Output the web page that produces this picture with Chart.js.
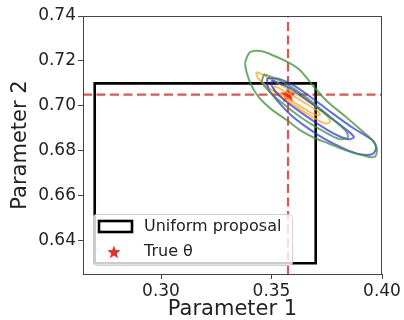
<!DOCTYPE html>
<html><head><meta charset="utf-8">
<script src="https://cdn.jsdelivr.net/npm/chart.js@4"></script>
<style>html,body{margin:0;padding:0;background:#fff}#wrap{width:404px;height:320px}</style>
</head><body><div id="wrap"><canvas id="c" width="404" height="320"></canvas></div>
<script>
// ---- data ----
const X_RANGE = [0.2647, 0.40];
const Y_RANGE = [0.6252, 0.74];
const X_TICKS = [0.30, 0.35, 0.40];
const Y_TICKS = [0.64, 0.66, 0.68, 0.70, 0.72, 0.74];
const TRUE_THETA = [0.3575, 0.705];
const PROPOSAL_X = [0.27, 0.37];
const PROPOSAL_Y = [0.63, 0.71];
const GREEN_OUTER = [[0.3380,0.7194],[0.3403,0.7239],[0.3457,0.7243],[0.3516,0.7221],[0.3575,0.7194],[0.3629,0.7159],[0.3697,0.7079],[0.3756,0.7016],[0.3833,0.6954],[0.3910,0.6888],[0.3968,0.6834],[0.3977,0.6794],[0.3964,0.6772],[0.3910,0.6781],[0.3833,0.6803],[0.3756,0.6834],[0.3697,0.6856],[0.3629,0.6892],[0.3570,0.6936],[0.3493,0.6990],[0.3439,0.7043],[0.3403,0.7105],[0.3385,0.7159],[0.3380,0.7194]];
const GREEN_INNER = [[0.3466,0.7141],[0.3516,0.7123],[0.3584,0.7088],[0.3674,0.7025],[0.3765,0.6950],[0.3833,0.6892],[0.3846,0.6861],[0.3810,0.6852],[0.3742,0.6883],[0.3652,0.6936],[0.3561,0.7003],[0.3493,0.7061],[0.3457,0.7105],[0.3466,0.7141]];
const BLUE_OUTER = [[0.3480,0.7123],[0.3538,0.7119],[0.3606,0.7088],[0.3697,0.7025],[0.3787,0.6959],[0.3878,0.6896],[0.3955,0.6848],[0.3973,0.6812],[0.3955,0.6785],[0.3900,0.6785],[0.3833,0.6808],[0.3742,0.6852],[0.3652,0.6910],[0.3584,0.6963],[0.3525,0.7025],[0.3484,0.7079],[0.3480,0.7123]];
const BLUE_INNER = [[0.3502,0.7114],[0.3584,0.7079],[0.3674,0.7016],[0.3765,0.6950],[0.3846,0.6888],[0.3873,0.6861],[0.3846,0.6852],[0.3787,0.6874],[0.3697,0.6928],[0.3606,0.6990],[0.3538,0.7043],[0.3502,0.7088],[0.3502,0.7114]];
const ORANGE_OUTER = [[0.3430,0.7150],[0.3457,0.7141],[0.3538,0.7096],[0.3629,0.7043],[0.3710,0.6990],[0.3756,0.6950],[0.3765,0.6928],[0.3738,0.6923],[0.3665,0.6963],[0.3584,0.7016],[0.3502,0.7070],[0.3439,0.7123],[0.3430,0.7150]];
const ORANGE_INNER = [[0.3516,0.7088],[0.3584,0.7052],[0.3652,0.7012],[0.3710,0.6976],[0.3719,0.6959],[0.3683,0.6968],[0.3615,0.7008],[0.3548,0.7048],[0.3511,0.7070],[0.3516,0.7088]];
const LEGEND_LABELS = ['Uniform proposal', 'True θ'];

// ---- styles ----
const FONT = "'DejaVu Sans', sans-serif";
const RED = 'rgba(228,50,44,0.85)';
const GREEN = 'rgba(60,145,55,0.75)';
const BLUE = 'rgba(40,50,230,0.72)';
const ORANGE = 'rgba(250,165,30,0.7)';

function drawStar(ctx, cx, cy, r, color) {
  ctx.save();
  ctx.beginPath();
  for (let i = 0; i < 10; i++) {
    const rad = i % 2 === 0 ? r : r * 0.42;
    const a = -Math.PI / 2 + i * Math.PI / 5;
    const px = cx + rad * Math.cos(a), py = cy + rad * Math.sin(a);
    if (i === 0) ctx.moveTo(px, py); else ctx.lineTo(px, py);
  }
  ctx.closePath();
  ctx.fillStyle = color;
  ctx.fill();
  ctx.restore();
}
const starImg = document.createElement('canvas');
starImg.width = 18; starImg.height = 18;
drawStar(starImg.getContext('2d'), 9, 9.5, 8.5, 'rgb(232,48,40)');

const toXY = arr => arr.map(p => ({x: p[0], y: p[1]}));
const contour = (arr, color) => ({
  data: toXY(arr), borderColor: color, borderWidth: 2, pointRadius: 0,
  showLine: true, fill: false, tension: 0.3
});

const datasets = [
  contour(GREEN_OUTER, GREEN),
  contour(GREEN_INNER, GREEN),
  contour(BLUE_OUTER, BLUE),
  contour(BLUE_INNER, BLUE),
  contour(ORANGE_OUTER, ORANGE),
  contour(ORANGE_INNER, ORANGE),
  { data: toXY([[PROPOSAL_X[0],PROPOSAL_Y[0]],[PROPOSAL_X[1],PROPOSAL_Y[0]],[PROPOSAL_X[1],PROPOSAL_Y[1]],[PROPOSAL_X[0],PROPOSAL_Y[1]],[PROPOSAL_X[0],PROPOSAL_Y[0]]]),
    borderColor: '#000', borderWidth: 2.6, pointRadius: 0, showLine: true, fill: false, tension: 0, borderJoinStyle: 'miter' },
  { data: toXY([[TRUE_THETA[0], Y_RANGE[0]], [TRUE_THETA[0], Y_RANGE[1]]]),
    borderColor: RED, borderWidth: 2.2, borderDash: [9, 4.5], pointRadius: 0, showLine: true, fill: false },
  { data: toXY([[X_RANGE[0], TRUE_THETA[1]], [X_RANGE[1], TRUE_THETA[1]]]),
    borderColor: RED, borderWidth: 2.2, borderDash: [9, 4.5], pointRadius: 0, showLine: true, fill: false },
  { data: toXY([TRUE_THETA]), pointStyle: starImg, pointRadius: 9, showLine: false }
];

const framePlugin = {
  id: 'frame',
  afterDatasetsDraw(chart) {
    const {ctx, chartArea: a} = chart;
    ctx.save();
    ctx.strokeStyle = '#444';
    ctx.lineWidth = 1;
    ctx.strokeRect(Math.round(a.left) + 0.5, Math.round(a.top) + 0.5, Math.round(a.right - a.left) - 1, Math.round(a.bottom - a.top));
    // legend
    const lx = a.left + 10, ly = a.bottom - 60, lw = 199, lh = 51;
    ctx.beginPath();
    ctx.roundRect(lx + 0.5, ly + 0.5, lw, lh, 3);
    ctx.fillStyle = 'rgba(255,255,255,0.8)';
    ctx.fill();
    ctx.strokeStyle = 'rgba(204,204,204,0.9)';
    ctx.lineWidth = 1;
    ctx.stroke();
    ctx.fillStyle = '#fff';
    ctx.fillRect(lx + 6, ly + 7, 33, 11);
    ctx.strokeStyle = '#000';
    ctx.lineWidth = 2.6;
    ctx.strokeRect(lx + 6, ly + 7, 33, 11);
    drawStar(ctx, lx + 21, ly + 38.5, 7, 'rgb(232,48,40)');
    ctx.fillStyle = '#222';
    ctx.font = '16px ' + FONT;
    ctx.textBaseline = 'middle';
    ctx.textAlign = 'left';
    ctx.fillText(LEGEND_LABELS[0], lx + 51, ly + 13);
    ctx.fillText(LEGEND_LABELS[1], lx + 51, ly + 38);
    ctx.restore();
  }
};

new Chart(document.getElementById('c'), {
  type: 'scatter',
  data: { datasets },
  plugins: [framePlugin],
  options: {
    responsive: false, animation: false, devicePixelRatio: 1,
    layout: { padding: { top: 16, right: 22, left: 0, bottom: 0 } },
    plugins: { legend: { display: false }, tooltip: { enabled: false } },
    scales: {
      x: {
        type: 'linear', min: X_RANGE[0], max: X_RANGE[1],
        afterBuildTicks: s => { s.ticks = X_TICKS.map(v => ({value: v})); },
        afterFit: s => { s.height = 46; },
        ticks: { callback: v => v.toFixed(2), font: { family: FONT, size: 17 }, color: '#222', padding: 2, maxRotation: 0 },
        grid: { drawOnChartArea: false, drawTicks: true, tickLength: 5, tickColor: '#444' },
        border: { display: true, color: '#444' },
        title: { display: true, text: 'Parameter 1', font: { family: FONT, size: 21, lineHeight: 1 }, color: '#222', padding: { top: 0, bottom: 0 } }
      },
      y: {
        type: 'linear', min: Y_RANGE[0], max: Y_RANGE[1],
        afterBuildTicks: s => { s.ticks = Y_TICKS.map(v => ({value: v})); },
        afterFit: s => { s.width = 83; },
        ticks: { callback: v => v.toFixed(2), font: { family: FONT, size: 17 }, color: '#222', padding: 2 },
        grid: { drawOnChartArea: false, drawTicks: true, tickLength: 5, tickColor: '#444' },
        border: { display: true, color: '#444' },
        title: { display: true, text: 'Parameter 2', font: { family: FONT, size: 21, lineHeight: 1 }, color: '#222', padding: { top: 10, bottom: 0 } }
      }
    }
  }
});
</script></body></html>
